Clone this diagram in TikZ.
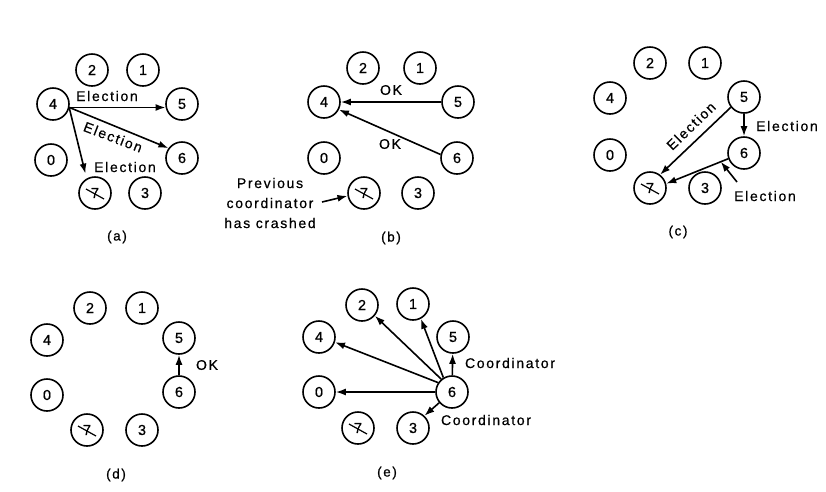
\documentclass[tikz,border=0pt]{standalone}
\usepackage{fontspec}
\setmainfont{Liberation Sans}[LetterSpace=12,FakeBold=0.6]
\usetikzlibrary{arrows.meta,calc}
\tikzset{
 nd/.style={circle, draw, line width=1.6pt, minimum size=32pt, inner sep=0pt, font=\fontsize{14.5}{16}\selectfont},
 arr/.style={line width=1.6pt, -{Latex[length=10pt,width=7pt]}},
 lbl/.style={font=\fontsize{14}{20}\selectfont, inner sep=0pt},
 captxt/.style={font=\fontsize{13.5}{16}\selectfont, inner sep=0pt},
 xout/.style={line width=1.2pt},
}
\newcommand{\crashed}[2]{\node[nd] (#1) at (#2) {7};
 \draw[xout] ([shift={(-9,-4)}]#1.center) -- ([shift={(9,6)}]#1.center);}
\begin{document}
\begin{tikzpicture}[x=1pt,y=-1pt]
\path[use as bounding box] (0,0) rectangle (826,491);
% ---------- (a)
\node[nd] (a2) at (92,70) {2};
\node[nd] (a1) at (143,70) {1};
\node[nd] (a4) at (53,104) {4};
\node[nd] (a5) at (182,104) {5};
\node[nd] (a0) at (51,160) {0};
\node[nd] (a6) at (182,158) {6};
\crashed{a7}{95,193}
\node[nd] (a3) at (145,193) {3};
\draw[arr] (a4.-12) -- (a5.192);
\draw[arr] (a4.-12) -- (a6.144);
\draw[arr, shorten >=5pt] (a4.-14) -- (a7.120);
\node[lbl] (la1) at (107,96) {Election};
\node[lbl, rotate=-21] (la2) at (113,137) {Election};
\node[lbl] (la3) at (125,167) {Election};
\node[captxt] (capa) at (117,237) {(a)};
% ---------- (b)
\node[nd] (b2) at (363,68) {2};
\node[nd] (b1) at (420,68) {1};
\node[nd] (b4) at (324,102) {4};
\node[nd] (b5) at (458,102) {5};
\node[nd] (b0) at (324,158) {0};
\node[nd] (b6) at (457,158) {6};
\crashed{b7}{364,193}
\node[nd] (b3) at (418,193) {3};
\draw[arr] (b5) -- (b4);
\draw[arr] (b6.168) -- (b4.-27);
\node[lbl] (lb1) at (391,90) {OK};
\node[lbl] (lb2) at (390,144) {OK};
\node[lbl, align=center] (prev) at (270,203) {Previous\\coordinator\\has crashed};
\coordinate (prevtail) at (322,202);
\draw[arr] (prevtail) -- (b7.190);
\node[captxt] (capb) at (391,238) {(b)};
% ---------- (c)
\node[nd] (c2) at (650,63) {2};
\node[nd] (c1) at (705,63) {1};
\node[nd] (c4) at (610,98) {4};
\node[nd] (c5) at (744,97) {5};
\node[nd] (c0) at (610,155) {0};
\node[nd] (c6) at (744,153) {6};
\crashed{c7}{650,188}
\node[nd] (c3) at (705,188) {3};
\draw[arr] (c5.218) -- (c7.53);
\draw[arr] (c5) -- (c6);
\draw[arr] (c6.200) -- (c7.15);
\node[lbl, rotate=44] (lc1) at (691,126) {Election};
\node[lbl] (lc2) at (787,126) {Election};
\node[lbl] (lc3) at (765,196) {Election};
\coordinate (ptail) at (737,182);
\coordinate (phead) at ($(c6.200)!0.12!(c7.15)$);
\draw[arr] (ptail) -- (phead);
\node[captxt] (capc) at (678,232) {(c)};
% ---------- (d)
\node[nd] (d2) at (90,308) {2};
\node[nd] (d1) at (142,308) {1};
\node[nd] (d4) at (47,340) {4};
\node[nd] (d5) at (179,338) {5};
\node[nd] (d0) at (47,395) {0};
\node[nd] (d6) at (179,392) {6};
\crashed{d7}{87,430}
\node[nd] (d3) at (142,430) {3};
\draw[arr] (d6) -- (d5);
\node[lbl] (ld1) at (207,365) {OK};
\node[captxt] (capd) at (116,475) {(d)};
% ---------- (e)
\node[nd] (e2) at (362,305) {2};
\node[nd] (e1) at (413,304) {1};
\node[nd] (e4) at (319,337) {4};
\node[nd] (e5) at (453,337) {5};
\node[nd] (e0) at (319,392) {0};
\node[nd] (e6) at (452,392) {6};
\crashed{e7}{358,428}
\node[nd] (e3) at (413,428) {3};
\draw[arr] (e6) -- (e5);
\draw[arr] (e6.121) -- (e1.-62);
\draw[arr] (e6.130) -- (e2.-40);
\draw[arr] (e6.146) -- (e4.-18);
\draw[arr] (e6) -- (e0);
\draw[arr] (e6.220) -- (e3.47);
\node[lbl] (le1) at (510,363) {Coordinator};
\node[lbl] (le2) at (486,420) {Coordinator};
\node[captxt] (cape) at (387,473) {(e)};
\end{tikzpicture}
\end{document}
